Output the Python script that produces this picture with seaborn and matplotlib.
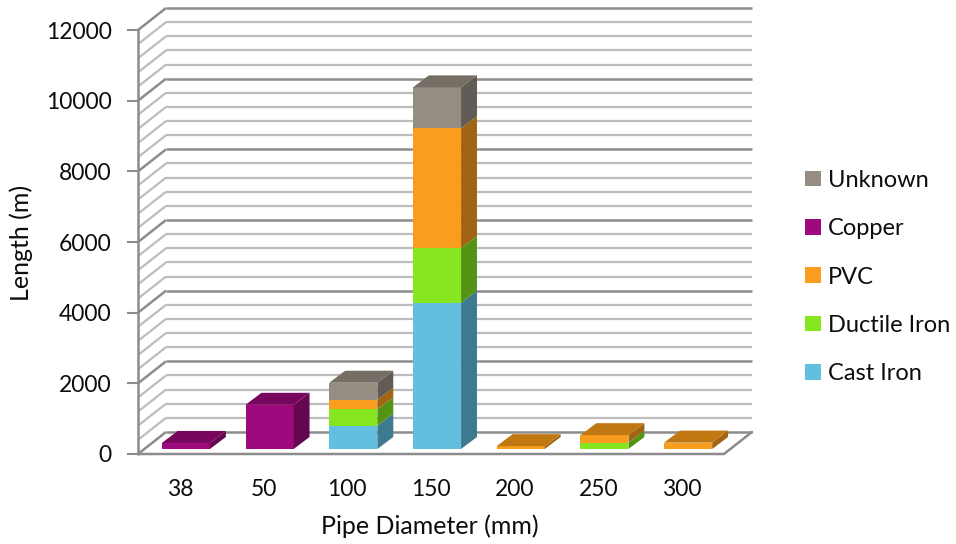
import numpy as np
import pandas as pd
import matplotlib
matplotlib.use("Agg")
import matplotlib.pyplot as plt
from matplotlib.patches import Polygon, Patch
import seaborn as sns

# Pipe length (m) by diameter and material
diameters = ["38", "50", "100", "150", "200", "250", "300"]
cast_iron = [0, 0, 660, 4140, 0, 0, 0]
ductile_iron = [0, 0, 465, 1550, 0, 180, 0]
pvc = [0, 0, 270, 3390, 80, 210, 180]
copper = [170, 1250, 0, 0, 0, 0, 0]
unknown = [0, 0, 480, 1155, 0, 0, 0]

materials = ["Cast Iron", "Ductile Iron", "PVC", "Copper", "Unknown"]
series = [cast_iron, ductile_iron, pvc, copper, unknown]
y_ticks = [0, 2000, 4000, 6000, 8000, 10000, 12000]

# face colours: front, side, top
faces = {
    "Cast Iron": ("#63BFE0", "#3D7A8F", "#4C96B0"),
    "Ductile Iron": ("#86E620", "#549414", "#66B018"),
    "PVC": ("#FA9C1E", "#A06413", "#C27812"),
    "Copper": ("#9E097D", "#650650", "#78065F"),
    "Unknown": ("#968D82", "#605B54", "#756E65"),
}

df = pd.DataFrame({
    "diameter": np.repeat([diameters], len(materials), axis=0).ravel(),
    "material": np.repeat(materials, len(diameters)),
    "length": np.concatenate(series),
})

sns.set_style("white")
plt.rcParams["font.family"] = ["Lato", "DejaVu Sans"]
TXT = "#0D0D0D"

W, H = 956, 544
fig = plt.figure(figsize=(W / 100, H / 100), dpi=100)
AX_L, AX_R, AX_T, AX_B = 138, 752, 8, 454
ax = fig.add_axes([AX_L / W, (H - AX_B) / H, (AX_R - AX_L) / W, (AX_B - AX_T) / H])

YMAX = 12000
# oblique depth of the whole chart box, in data units
DX, DY = 0.335, 624
# bar depth and offset of the bar front plane
BDX, BDY = 0.19, 340
OX, OY = 0.072, 142
BAR_W = 0.575

# walls: back grid with diagonals on the left wall
for v in np.arange(0, YMAX + 1, 400):
    major = v % 2000 == 0
    col = "#8C8C8C" if major else "#BDBDBD"
    lw = 1.8 if major else 1.6
    ax.plot([-0.5, -0.5 + DX], [v, v + DY], color=col, lw=lw, zorder=1,
            clip_on=False, solid_capstyle="butt")
    ax.plot([-0.5 + DX, 6.5 + DX], [v + DY, v + DY], color=col, lw=lw,
            zorder=1, clip_on=False, solid_capstyle="butt")

# floor outline and front value axis
ax.plot([-0.5, 6.5, 6.5 + DX], [0, 0, DY], color="#8C8C8C", lw=1.8,
        zorder=1, clip_on=False)
ax.plot([-0.5, -0.5], [0, YMAX], color="#8C8C8C", lw=1.8, zorder=1,
        clip_on=False)

bottoms = np.zeros(len(diameters))
top_owner = [None] * len(diameters)
for m, vals in zip(materials, series):
    for i, v in enumerate(vals):
        if v > 0:
            top_owner[i] = m

for m, vals in zip(materials, series):
    front, side, top = faces[m]
    sns.barplot(data=df[df["material"] == m], x="diameter", y="length",
                order=diameters, color=front, saturation=1, width=BAR_W,
                errorbar=None, linewidth=0, ax=ax, zorder=3)
    cont = ax.containers[-1]
    for i, p in enumerate(cont.patches):
        x0 = p.get_x() + OX
        w = p.get_width()
        b = bottoms[i] + OY
        h = p.get_height()
        p.set_x(x0)
        p.set_y(b)
        p.set_clip_on(False)
        if h <= 0:
            continue
        t = b + h
        ax.add_patch(Polygon([(x0 + w, b), (x0 + w + BDX, b + BDY),
                              (x0 + w + BDX, t + BDY), (x0 + w, t)],
                             closed=True, facecolor=side, lw=0, zorder=3,
                             clip_on=False))
        if top_owner[i] == m:
            ax.add_patch(Polygon([(x0, t), (x0 + BDX, t + BDY),
                                  (x0 + w + BDX, t + BDY), (x0 + w, t)],
                                 closed=True, facecolor=top, lw=0, zorder=3,
                                 clip_on=False))
    bottoms += np.array(vals, dtype=float)

ax.set_xlim(-0.5, 6.5 + DX)
ax.set_ylim(0, YMAX + DY)
sns.despine(ax=ax, left=True, bottom=True)
ax.grid(False)

ax.set_yticks(y_ticks)
ax.set_yticklabels([str(v) for v in y_ticks], fontsize=16.5, color=TXT)
ax.tick_params(axis="y", length=8, width=1.5, color="#8C8C8C", pad=11,
               left=True)
ax.set_xticks(range(len(diameters)))
ax.set_xticklabels(diameters, fontsize=16.5, color=TXT)
ax.tick_params(axis="x", length=0, pad=18)

AXW, AXH = AX_R - AX_L, AX_B - AX_T
ax.set_xlabel("Pipe Diameter (mm)", fontsize=18, color=TXT)
ax.xaxis.set_label_coords((430 - AX_L) / AXW, -(514 - AX_B) / AXH)
ax.set_ylabel("Length (m)", fontsize=18, color=TXT)
ax.yaxis.set_label_coords(-(AX_L - 33) / AXW, (AX_B - 243) / AXH)

handles = [Patch(facecolor=faces[m][0], edgecolor="none") for m in materials[::-1]]
fig.legend(handles, materials[::-1], loc="center left",
           bbox_to_anchor=(784 / W, 1 - 277 / H), frameon=False,
           fontsize=17, labelspacing=1.16, handlelength=0.65,
           handleheight=0.65, handletextpad=0.3, labelcolor=TXT)

fig.savefig("out.png", dpi=100)
